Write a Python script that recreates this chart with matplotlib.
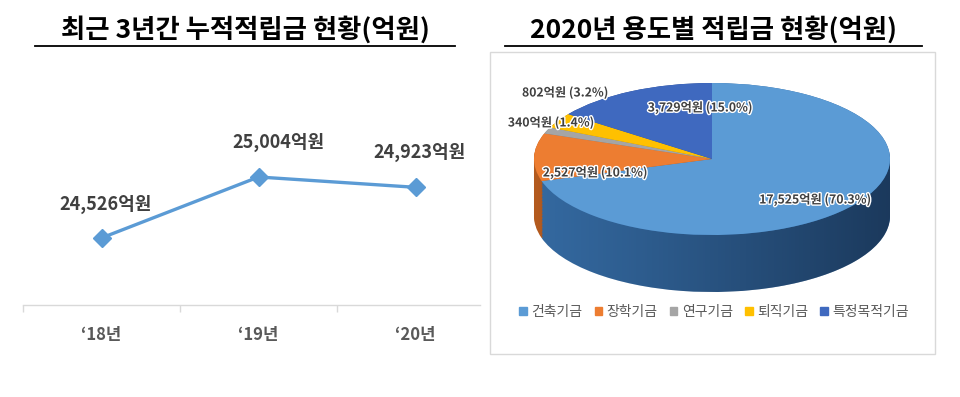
import numpy as np
import matplotlib
matplotlib.use("Agg")
import matplotlib.pyplot as plt
from matplotlib.lines import Line2D
from matplotlib.patches import Patch, Rectangle
from matplotlib.path import Path
import matplotlib.patheffects as pe

plt.rcParams['font.family'] = ['Noto Sans CJK KR', 'DejaVu Sans']

# ---------------- data ----------------
years = ["‘18년", "‘19년", "‘20년"]
totals = [24526, 25004, 24923]

uses = ["건축기금", "장학기금", "연구기금", "퇴직기금", "특정목적기금"]
amounts = [17525, 2527, 340, 802, 3729]
shares = [70.3, 10.1, 1.4, 3.2, 15.0]

title_left = "최근 3년간 누적적립금 현황(억원)"
title_right = "2020년 용도별 적립금 현황(억원)"

# ---------------- style ----------------
W, H = 960, 397
fig = plt.figure(figsize=(W / 100, H / 100), dpi=100)
fig.patch.set_facecolor("white")

def fx(px):
    return px / W

def fy(py):
    return 1 - py / H

line_color = "#5B9BD5"
slice_colors = ["#5B9BD5", "#ED7D31", "#A5A5A5", "#FFC000", "#3F69BF"]
side_colors = ["#3469A0", "#B35A1E", "#7A7A7A", "#B88A00", "#2C4A8E"]
label_color = "#404040"

# ---------------- titles ----------------
fig.text(fx(245), fy(30), title_left, ha="center", va="center",
         fontsize=19, fontweight=900, color="black")
fig.add_artist(Line2D([fx(35), fx(455)], [fy(46), fy(46)], color="black", lw=1.3))
fig.text(fx(713), fy(30), title_right, ha="center", va="center",
         fontsize=19, fontweight=900, color="black")
fig.add_artist(Line2D([fx(505), fx(922)], [fy(46), fy(46)], color="black", lw=1.3))

# ---------------- left: line chart ----------------
ax = fig.add_axes([fx(23), fy(305), fx(480) - fx(23), fy(50) - fy(305)])
x = np.arange(len(years))
ax.plot(x, totals, color=line_color, lw=2.4, marker="D", markersize=9,
        markerfacecolor=line_color, markeredgecolor=line_color, zorder=3)
offsets = [(3, 24), (14, 25), (3, 25)]
for xi, v, off in zip(x, totals, offsets):
    ax.annotate(f"{v:,}억원", (xi, v), xytext=off, textcoords="offset points",
                ha="center", va="center", fontsize=13, fontweight="bold",
                color=label_color)
ax.set_xlim(-0.5, 2.41)
ax.set_ylim(24000, 26000)
ax.set_yticks([])
ax.set_xticks(x)
ax.set_xticklabels(years)
ax.set_xticks([-0.5, 0.5, 1.5], minor=True)
ax.tick_params(axis="x", which="major", length=0, pad=15, labelsize=12,
               labelcolor="#595959")
for t in ax.get_xticklabels():
    t.set_fontweight("bold")
ax.tick_params(axis="x", which="minor", length=5, color="#D9D9D9", width=1)
for s in ["left", "right", "top"]:
    ax.spines[s].set_visible(False)
ax.spines["bottom"].set_color("#D9D9D9")
ax.spines["bottom"].set_linewidth(1)
ax.patch.set_alpha(0)

# ---------------- right: 3D-like pie ----------------
fig.add_artist(Rectangle((fx(490), fy(354)), fx(935) - fx(490), fy(52) - fy(354),
                         transform=fig.transFigure, fill=False,
                         edgecolor="#D9D9D9", lw=1))

cx_px, cy_px, rx_px, ry_px, depth_px = 712, 159, 178, 76, 57
left_px, right_px, top_px, bot_px = 512, 912, 70, 300
pax = fig.add_axes([fx(left_px), fy(bot_px), fx(right_px) - fx(left_px), fy(top_px) - fy(bot_px)])
xl = ((left_px - cx_px) / rx_px, (right_px - cx_px) / rx_px)
yl = (-(bot_px - cy_px) / ry_px, (cy_px - top_px) / ry_px)
d = depth_px / ry_px

# side: stacked pies
for k in np.linspace(d, 0.0, 40):
    pax.pie(amounts, colors=side_colors, startangle=90, counterclock=False,
            center=(0, -k), radius=1, wedgeprops=dict(linewidth=0))

# shading gradient on the side
t = np.linspace(0, np.pi, 200)
front_top = np.column_stack([np.cos(np.pi + t), np.sin(np.pi + t)])
front_bot = front_top[::-1] + np.array([0, -d])
verts = np.vstack([front_top, front_bot, front_top[:1]])
clip = Path(verts, closed=True)
grad = np.zeros((10, 256, 4))
navy = np.array([0.05, 0.11, 0.20])
grad[..., :3] = navy
grad[..., 3] = np.linspace(0.0, 0.65, 256)[None, :] ** 1.1
im = pax.imshow(grad, extent=(-1, 1, -1 - d, 0), aspect="auto", zorder=2,
                interpolation="bilinear")
im.set_clip_path(clip, transform=pax.transData)

# top face
wedges, _ = pax.pie(amounts, colors=slice_colors, startangle=90, counterclock=False,
                    center=(0, 0), radius=1, wedgeprops=dict(linewidth=0))
for w_ in wedges:
    w_.set_zorder(3)
pax.set_aspect("auto")
pax.set_xlim(*xl)
pax.set_ylim(*yl)
pax.axis("off")

# data labels
label_pos = [(815, 200), (595, 173), (551, 123), (565, 93), (700, 108)]
for (px_, py_), a, s in zip(label_pos, amounts, shares):
    fig.text(fx(px_), fy(py_), f"{a:,}억원 ({s:.1f}%)", ha="center", va="center",
             fontsize=8.8, fontweight="bold", color=label_color,
             path_effects=[pe.withStroke(linewidth=2, foreground="white")])

# legend
handles = [Patch(facecolor=c, edgecolor=c) for c in slice_colors]
fig.legend(handles, uses, loc="center", bbox_to_anchor=(fx(714), fy(312)),
           ncol=5, frameon=False, fontsize=10, handlelength=0.55, handleheight=0.55,
           handletextpad=0.3, columnspacing=0.9, labelcolor="#595959")

fig.savefig("out.png", dpi=100, facecolor="white")
